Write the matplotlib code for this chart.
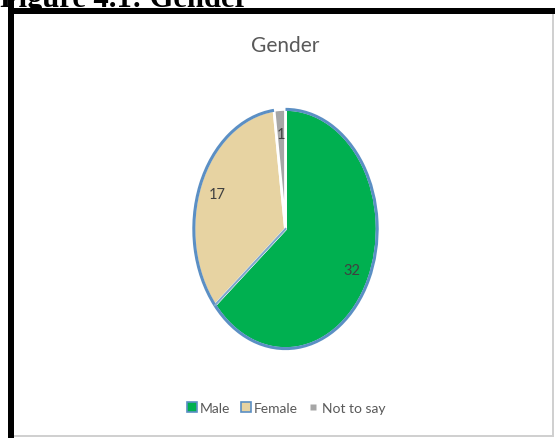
import matplotlib
matplotlib.use("Agg")
import matplotlib.pyplot as plt
from matplotlib.patches import Rectangle, Arc
from matplotlib.lines import Line2D
import numpy as np

categories = ["Male", "Female", "Not to say"]
values = [32, 17, 1]
colors = ["#00B050", "#E7D3A2", "#A6A6A6"]
title = "Gender"
caption = "Figure 4.1: Gender"

W, H = 555, 439
fig = plt.figure(figsize=(W / 100, H / 100), dpi=100)
fig.patch.set_facecolor("white")

def fx(px): return px / W
def fy(py): return 1 - py / H

# frame: thick black top & left, thin gray right & bottom
fig.add_artist(Rectangle((fx(8), fy(439)), fx(6), 439 / H, transform=fig.transFigure,
                         facecolor="black", edgecolor="none"))
fig.add_artist(Rectangle((fx(8), fy(15)), fx(547), 6 / H, transform=fig.transFigure,
                         facecolor="black", edgecolor="none"))
fig.add_artist(Rectangle((fx(552), fy(437)), fx(2), 422 / H, transform=fig.transFigure,
                         facecolor="#D0D0D0", edgecolor="none"))
fig.add_artist(Rectangle((fx(14), fy(438)), fx(540), 2 / H, transform=fig.transFigure,
                         facecolor="#D0D0D0", edgecolor="none"))

fig.text(0.0, fy(7), caption, fontsize=22, fontweight="bold", family="Liberation Serif",
         ha="left", va="baseline", color="black")

fig.text(fx(285), fy(46), title, fontsize=15, family="Lato", color="#595959",
         ha="center", va="center")

# pie axes: bounding box of the ellipse
left, right, top, bottom = 192, 379, 108, 352
ax = fig.add_axes([fx(left), fy(bottom), fx(right - left), (bottom - top) / H])
total = sum(values)
wedges, texts, autotexts = ax.pie(
    values, colors=colors, startangle=90, counterclock=False,
    autopct=lambda p: f"{round(p * total / 100)}", pctdistance=0.8,
    wedgeprops=dict(edgecolor="white", linewidth=2),
    textprops=dict(fontsize=10.5, color="#404040", family="Lato"))
ax.set_aspect("auto")
ax.set_xlim(-1.02, 1.02)
ax.set_ylim(-1.02, 1.02)

# blue outer outline for Male and Female
ang = 90.0
for v in values[:2]:
    span = v / total * 360
    ax.add_patch(Arc((0, 0), 2, 2, theta1=ang - span, theta2=ang,
                     color="#5B8FC4", linewidth=2.2))
    ang -= span
# Male/Female boundary line
a = np.deg2rad(90 - values[0] / total * 360)
ax.plot([0, np.cos(a)], [0, np.sin(a)], color="#7FA6CC", linewidth=1.5)
ax.axis("off")

handles = [Line2D([], [], linestyle="none", marker="s", markersize=7.5,
                  markerfacecolor=colors[0], markeredgecolor="#5B8FC4", markeredgewidth=1.2),
           Line2D([], [], linestyle="none", marker="s", markersize=7.5,
                  markerfacecolor=colors[1], markeredgecolor="#5B8FC4", markeredgewidth=1.2),
           Line2D([], [], linestyle="none", marker="s", markersize=4,
                  markerfacecolor=colors[2], markeredgecolor="none")]
fig.legend(handles, categories, loc="center", bbox_to_anchor=(fx(286), fy(409)),
           ncol=3, frameon=False, handlelength=0.7,
           handletextpad=0.25, columnspacing=0.75,
           prop=dict(family="Lato", size=10))
for t in fig.legends[0].get_texts():
    t.set_color("#595959")

fig.savefig("out.png", dpi=100, facecolor="white")
